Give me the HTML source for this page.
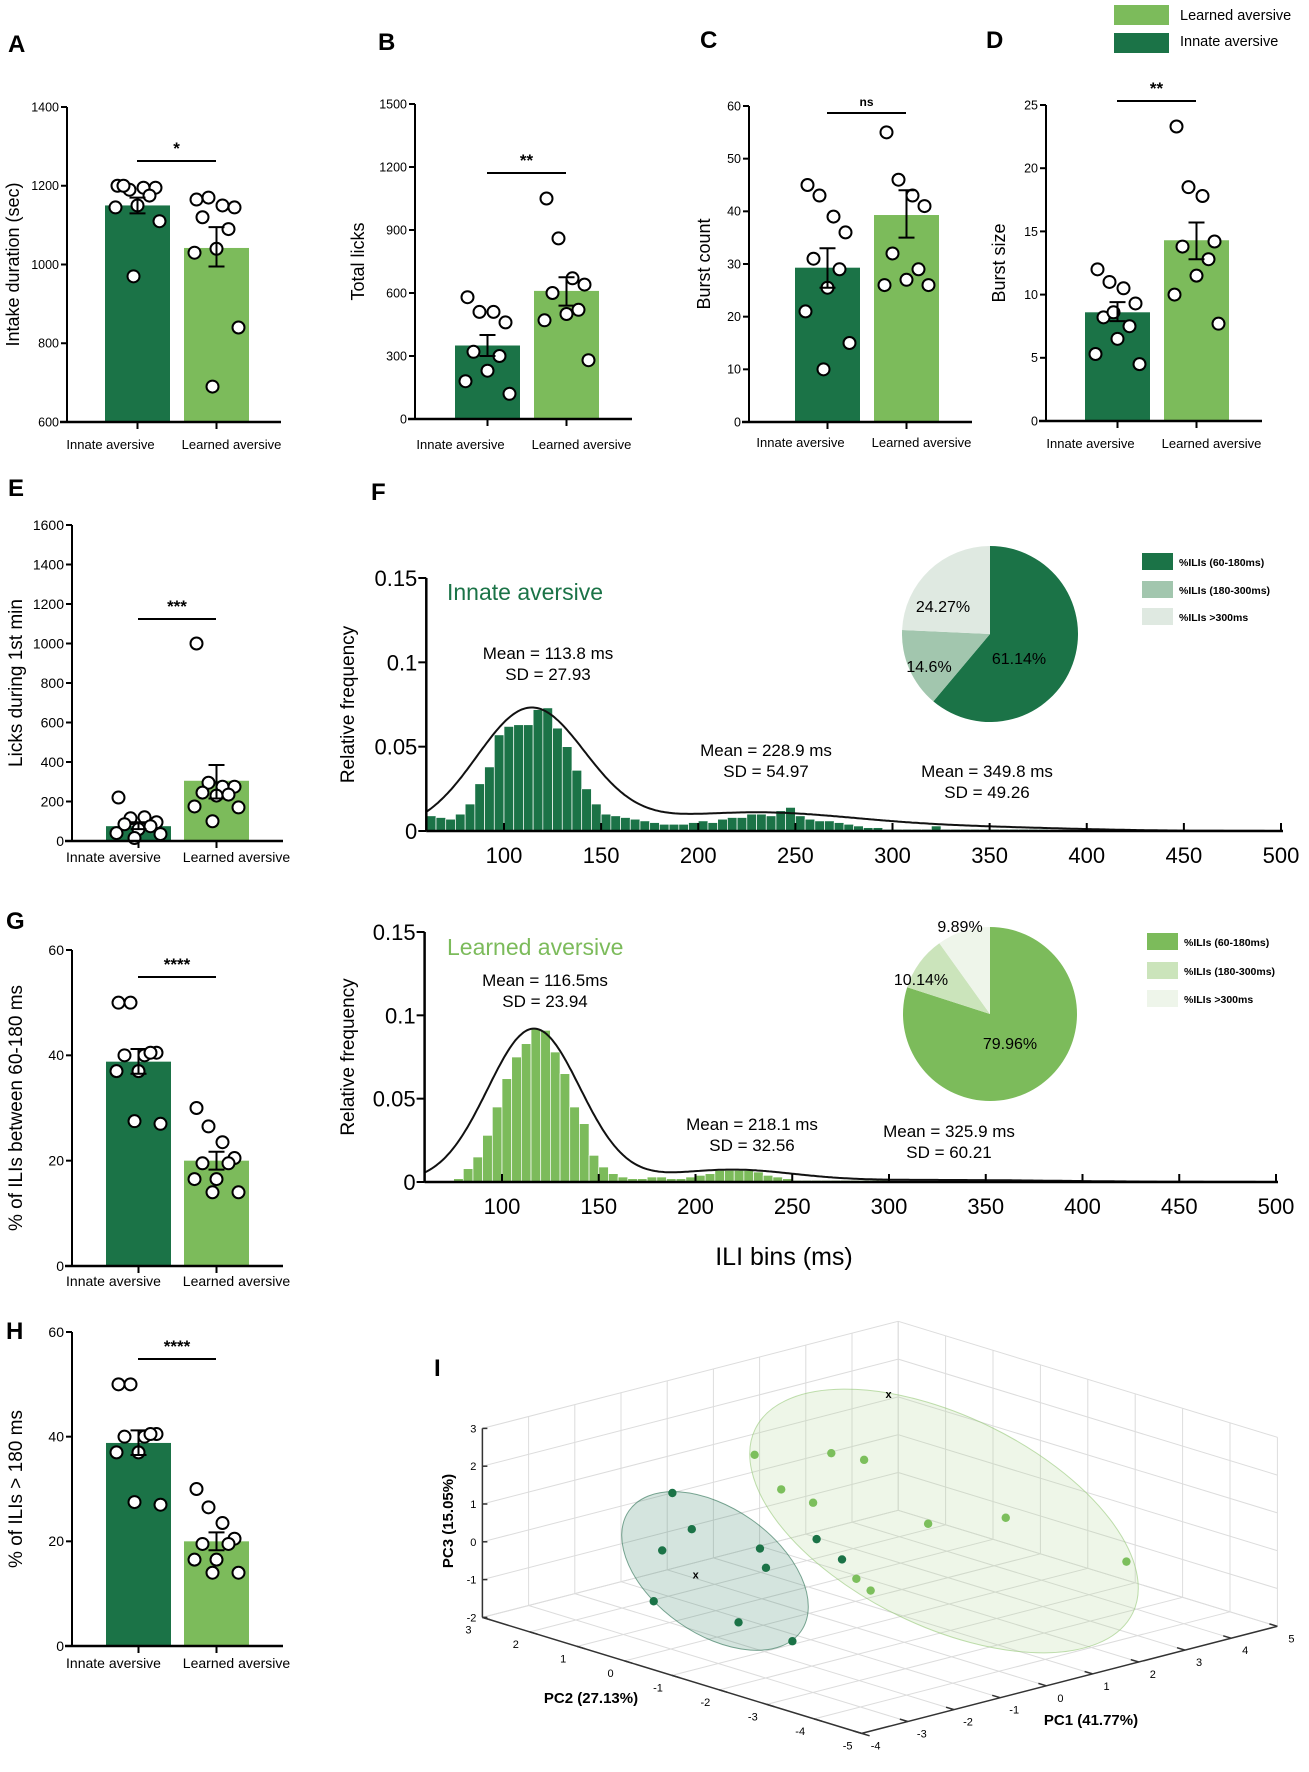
<!DOCTYPE html>
<html><head><meta charset="utf-8"><style>
html,body{margin:0;padding:0;background:#fff;}
svg{display:block;font-family:"Liberation Sans",sans-serif;}
</style></head>
<body>
<svg id="fig" width="1309" height="1772" viewBox="0 0 1309 1772" xmlns="http://www.w3.org/2000/svg"></svg>
<script>
// ---------- DATA ----------
const categories = ["Innate aversive", "Learned aversive"];
const intakeMeans = [1150, 1042];
const intakeErr = [[1130,1170],[995,1095]];
const intakeInnate = [1200,1190,1195,1195,1200,1175,1150,1145,1110,970];
const intakeLearned = [1165,1170,1150,1145,1120,1090,1040,1030,840,690];
const licksMeans = [350, 610];
const licksErr = [[300,400],[540,675]];
const licksInnate = [580,510,510,460,320,300,230,180,120];
const licksLearned = [1050,860,670,640,600,520,500,470,280];
const burstCountMeans = [29.3, 39.3];
const burstCountErr = [[25.5,33],[35,44]];
const burstCountInnate = [45,43,39,36,31,29,25.5,21,15,10];
const burstCountLearned = [55,46,43,41,32,29,27,26,26];
const burstSizeMeans = [8.6, 14.3];
const burstSizeErr = [[7.9,9.4],[12.8,15.7]];
const burstSizeInnate = [12,11,10.5,9.3,8.2,7.5,6.5,5.3,4.5,8.6];
const burstSizeLearned = [23.3,18.5,17.8,14.2,13.8,12.8,11.5,10,7.7];
const firstMinMeans = [75, 305];
const firstMinErr = [[60,95],[215,385]];
const firstMinInnate = [220,115,120,95,85,75,60,40,35,15];
const firstMinLearned = [1000,295,275,275,245,235,230,175,170,100];
const ili60Means = [38.8, 20];
const ili60Err = [[36.5,41.2],[18.3,21.7]];
const ili60Innate = [50,50,40,40.5,40,40.5,37,37,27,27.5];
const ili60Learned = [30,26.5,23.5,20.5,19.5,19.5,16.5,16.5,14,14];
const ili180Means = [38.8, 20];
const ili180Err = [[36.5,41.2],[18.3,21.7]];
const ili180Innate = [50,50,40,40.5,40,40.5,37,37,27,27.5];
const ili180Learned = [30,26.5,23.5,20.5,19.5,19.5,16.5,16.5,14,14];

// histogram bins (ms, 5 ms width)
const innateBins = [60,65,70,75,80,85,90,95,100,105,110,115,120,125,130,135,140,145,150,155,160,165,170,175,180,185,190,195,200,205,210,215,220,225,230,235,240,245,250,255,260,265,270,275,280,285,290,295,300,305,310,315,320,325,330,335,340,345,350,355,360,365,370,375,380,385,390,395];
const innateFreq = [0.009,0.008,0.007,0.01,0.016,0.028,0.038,0.057,0.062,0.063,0.063,0.072,0.073,0.061,0.05,0.036,0.025,0.016,0.01,0.009,0.008,0.007,0.006,0.005,0.004,0.004,0.004,0.005,0.006,0.005,0.007,0.008,0.008,0.01,0.01,0.009,0.012,0.014,0.009,0.007,0.006,0.006,0.005,0.004,0.003,0.002,0.002,0.001,0.001,0.001,0.001,0.001,0.003,0.001,0.001,0.001,0.001,0.001,0.001,0.001,0.001,0.001,0.001,0.001,0.0005,0.0005,0.0005,0.0005];
const learnedBins = [75,80,85,90,95,100,105,110,115,120,125,130,135,140,145,150,155,160,165,170,175,180,185,190,195,200,205,210,215,220,225,230,235,240,245,250,255,260,265,270,275,280,285,290,295];
const learnedFreq = [0.002,0.008,0.015,0.028,0.045,0.062,0.075,0.083,0.092,0.091,0.078,0.065,0.045,0.035,0.016,0.009,0.005,0.003,0.002,0.002,0.003,0.003,0.002,0.002,0.003,0.004,0.005,0.007,0.007,0.007,0.007,0.006,0.004,0.003,0.002,0.001,0.001,0.001,0.001,0.001,0.001,0.001,0.001,0.001,0.001];
const innateFitMean = [113.8, 228.9, 349.8];
const innateFitSD = [27.93, 54.97, 49.26];
const innateFitPeak = [0.072, 0.011, 0.0018];
const learnedFitMean = [116.5, 218.1, 325.9];
const learnedFitSD = [23.94, 32.56, 60.21];
const learnedFitPeak = [0.092, 0.0072, 0.0012];
const xTicks = [100,150,200,250,300,350,400,450,500];
const yTicksF = [0, 0.05, 0.1, 0.15];
const yTickLabelsF = ["0","0.05","0.1","0.15"];
const innatePie = [61.14, 14.6, 24.27];
const innatePieLabels = ["61.14%","14.6%","24.27%"];
const learnedPie = [79.96, 10.14, 9.89];
const learnedPieLabels = ["79.96%","10.14%","9.89%"];
const pieLegend = ["%ILIs (60-180ms)","%ILIs (180-300ms)","%ILIs  >300ms"];

// PCA 3D (PC1, PC2, PC3)
const pcaInnatePC1 = [-1.94,-1.52,-2.16,-1.07,-0.94,-0.87,-0.32,-3.37,-2.56,-2.42];
const pcaInnatePC2 = [1,1,1,0,0,-1,-1,0,-1,-2];
const pcaInnatePC3 = [1.41,0.32,-0.04,0.05,-0.50,0.62,-0.09,-0.62,-1.05,-1.21];
const pcaLearnedPC1 = [-0.16,1.50,2.21,-0.61,0.08,2.57,4.25,4.81,-0.01,0.30];
const pcaLearnedPC2 = [1,1,1,0,0,0,0,-2,-1,-1];
const pcaLearnedPC3 = [1.86,1.38,0.98,1.47,0.90,-0.44,-0.81,-1.38,-0.70,-1.11];
const pcaCentroidInnate = [-2.46, 0, -0.2];
const pcaCentroidLearned = [2.74, 1, 2.55];

// ---------- HELPERS ----------
const NS = "http://www.w3.org/2000/svg";
const svg = document.getElementById("fig");
const DARK = "#1b7347", LIGHT = "#7cbb5b";
function mk(tag, attrs, parent, text) {
  const e = document.createElementNS(NS, tag);
  for (const k in attrs) e.setAttribute(k, attrs[k]);
  if (text !== undefined) e.textContent = text;
  (parent || svg).appendChild(e);
  return e;
}
function group(name) {
  const g = mk("g", {});
  
  
  return g;
}
const jitter = [-20, -8, 6, 18, -14, 12, 0, -22, 22, -4];

function barPanel(p) {
  const g = group(p.name);
  const y = v => p.yBot - (v - p.min) / (p.max - p.min) * (p.yBot - p.yTop);
  const series = [[p.means[0], p.err[0], p.innate, p.off[0], DARK], [p.means[1], p.err[1], p.learned, p.off[1], LIGHT]];
  series.forEach((s, i) => {
    const x0 = p.ax + s[3], w = 65, cx = x0 + w / 2;
    const r = mk("rect", {x: x0, y: y(s[0]), width: w, height: p.yBot - y(s[0]), fill: s[4]}, g);
    
    
    s[2].forEach((v, j) => {
      const c = mk("circle", {cx: cx + jitter[j % jitter.length], cy: y(v), r: p.dr, fill: "#fff", stroke: "#000", "stroke-width": 2}, g);
      
      
    });
    const e = mk("path", {d: `M${cx},${y(s[1][0])}V${y(s[1][1])}M${cx-8},${y(s[1][0])}H${cx+8}M${cx-8},${y(s[1][1])}H${cx+8}`, stroke: "#000", "stroke-width": 2, fill: "none"}, g);
    
    
    mk("line", {x1: cx, x2: cx, y1: p.yBot, y2: p.yBot + 7, stroke: "#000", "stroke-width": 2}, g);
    const t = mk("text", {x: cx + p.labOff[i], y: p.labelY, "text-anchor": "middle", "font-size": p.catFs}, g, categories[i]);
    
    
  });
  mk("line", {x1: p.ax, x2: p.ax, y1: p.yTop, y2: p.yBot, stroke: "#000", "stroke-width": 2}, g);
  mk("line", {x1: p.ax - 7, x2: p.axEnd, y1: p.yBot, y2: p.yBot, stroke: "#000", "stroke-width": 2.5}, g);
  p.ticks.forEach(v => {
    mk("line", {x1: p.ax - 6, x2: p.ax, y1: y(v), y2: y(v), stroke: "#000", "stroke-width": 2}, g);
    const t = mk("text", {x: p.ax - 8, y: y(v) + p.tickFs * 0.35, "text-anchor": "end", "font-size": p.tickFs}, g, String(v));
    
    
  });
  const c1 = p.ax + p.off[0] + 32, c2 = p.ax + p.off[1] + 32;
  mk("line", {x1: c1, x2: c2, y1: p.sigY, y2: p.sigY, stroke: "#000", "stroke-width": 2}, g);
  const st = mk("text", {x: (c1 + c2) / 2, y: p.sigY - 7, "text-anchor": "middle", "font-size": p.sig === "ns" ? 12 : 17, "font-weight": "bold"}, g, p.sig);
  
  
  const yt = mk("text", {x: p.titleX, y: (p.yTop + p.yBot) / 2, "text-anchor": "middle", "font-size": p.titleFs, transform: `rotate(-90 ${p.titleX} ${(p.yTop + p.yBot) / 2})`, "dominant-baseline": "middle"}, g, p.title);
  
  
  const L = mk("text", {x: p.letter[0], y: p.letter[1], "font-size": 24, "font-weight": "bold"}, g, p.letter[2]);
  
  
}
function range(a, b, s) { const r = []; for (let v = a; v <= b + 1e-9; v += s) r.push(v); return r; }
const LO1 = [-27, 15], LO2 = [-25, 20];

barPanel({name: "panel-a", ax: 67, yTop: 107, yBot: 422, min: 600, max: 1400, ticks: range(600, 1400, 200), axEnd: 281, means: intakeMeans, err: intakeErr, innate: intakeInnate, learned: intakeLearned, off: [38, 117], labOff: LO1, sigY: 161, sig: "*", title: "Intake duration (sec)", titleX: 14, titleFs: 18, labelY: 449, catFs: 13, tickFs: 12.5, dr: 6, letter: [8, 52, "A"]});
barPanel({name: "panel-b", ax: 415, yTop: 104, yBot: 419, min: 0, max: 1500, ticks: range(0, 1500, 300), axEnd: 632, means: licksMeans, err: licksErr, innate: licksInnate, learned: licksLearned, off: [40, 119], labOff: LO1, sigY: 173, sig: "**", title: "Total licks", titleX: 359, titleFs: 18, labelY: 449, catFs: 13, tickFs: 12.5, dr: 6, letter: [378, 50, "B"]});
barPanel({name: "panel-c", ax: 749, yTop: 106, yBot: 422, min: 0, max: 60, ticks: range(0, 60, 10), axEnd: 972, means: burstCountMeans, err: burstCountErr, innate: burstCountInnate, learned: burstCountLearned, off: [46, 125], labOff: LO1, sigY: 113, sig: "ns", title: "Burst count", titleX: 705, titleFs: 18, labelY: 447, catFs: 13, tickFs: 12.5, dr: 6, letter: [700, 48, "C"]});
barPanel({name: "panel-d", ax: 1046, yTop: 105, yBot: 421, min: 0, max: 25, ticks: range(0, 25, 5), axEnd: 1262, means: burstSizeMeans, err: burstSizeErr, innate: burstSizeInnate, learned: burstSizeLearned, off: [39, 118], labOff: LO1, sigY: 101, sig: "**", title: "Burst size", titleX: 1000, titleFs: 18, labelY: 448, catFs: 13, tickFs: 12.5, dr: 6, letter: [986, 48, "D"]});
barPanel({name: "panel-e", ax: 72, yTop: 525, yBot: 841, min: 0, max: 1600, ticks: range(0, 1600, 200), axEnd: 283, means: firstMinMeans, err: firstMinErr, innate: firstMinInnate, learned: firstMinLearned, off: [34, 112], labOff: LO2, sigY: 619, sig: "***", title: "Licks during 1st min", titleX: 17, titleFs: 19, labelY: 862, catFs: 14, tickFs: 14, dr: 6, letter: [8, 496, "E"]});
barPanel({name: "panel-g", ax: 72, yTop: 950, yBot: 1266, min: 0, max: 60, ticks: range(0, 60, 20), axEnd: 283, means: ili60Means, err: ili60Err, innate: ili60Innate, learned: ili60Learned, off: [34, 112], labOff: LO2, sigY: 977, sig: "****", title: "% of ILIs between 60-180 ms", titleX: 17, titleFs: 19, labelY: 1286, catFs: 14, tickFs: 14, dr: 6, letter: [6, 929, "G"]});
barPanel({name: "panel-h", ax: 72, yTop: 1332, yBot: 1646, min: 0, max: 60, ticks: range(0, 60, 20), axEnd: 283, means: ili180Means, err: ili180Err, innate: ili180Innate, learned: ili180Learned, off: [34, 112], labOff: LO2, sigY: 1359, sig: "****", title: "%  of ILIs > 180 ms", titleX: 17, titleFs: 19, labelY: 1668, catFs: 14, tickFs: 14, dr: 6, letter: [6, 1339, "H"]});

// top-right legend
(function(){
  const g = group("group-legend");
  [["Learned aversive", LIGHT, 5, 20], ["Innate aversive", DARK, 33, 46]].forEach(d => {
    const r = mk("rect", {x: 1114, y: d[2], width: 55, height: 20, fill: d[1]}, g);
    
    
    const t = mk("text", {x: 1180, y: d[3], "font-size": 14.5}, g, d[0]);
    
    
  });
})();

// ---------- PANEL F ----------
function histPanel(p) {
  const g = group(p.name);
  const X = v => p.x0 + (v - 60) * p.sx;
  const Y = v => p.y0 - v * p.sy;
  p.bins.forEach((b, i) => {
    const r = mk("rect", {x: X(b), y: Y(p.freq[i]), width: 5 * p.sx, height: p.y0 - Y(p.freq[i]), fill: p.color, stroke: "#fff", "stroke-width": 0.7}, g);
    
    
  });
  let d = "";
  for (let v = 60; v <= 500; v += 1) {
    let f = 0;
    for (let k = 0; k < p.mean.length; k++) f += p.peak[k] * Math.exp(-0.5 * Math.pow((v - p.mean[k]) / p.sd[k], 2));
    d += (v === 60 ? "M" : "L") + X(v).toFixed(1) + "," + Y(f).toFixed(1);
  }
  const c = mk("path", {d: d, fill: "none", stroke: "#111", "stroke-width": 2}, g);
  
  
  mk("line", {x1: p.x0, x2: p.x0, y1: Y(0.15), y2: p.y0, stroke: "#000", "stroke-width": 2.5}, g);
  mk("line", {x1: p.x0, x2: X(500) + 2, y1: p.y0, y2: p.y0, stroke: "#000", "stroke-width": 2.5}, g);
  yTicksF.forEach((v, i) => {
    mk("line", {x1: p.x0 - 8, x2: p.x0, y1: Y(v), y2: Y(v), stroke: "#000", "stroke-width": 2}, g);
    const t = mk("text", {x: p.x0 - 9, y: Y(v) + 8, "text-anchor": "end", "font-size": 22}, g, yTickLabelsF[i]);
    
    
  });
  xTicks.forEach(v => {
    mk("line", {x1: X(v), x2: X(v), y1: p.y0 - 8, y2: p.y0, stroke: "#000", "stroke-width": 2}, g);
    const t = mk("text", {x: X(v), y: p.y0 + 32, "text-anchor": "middle", "font-size": 22}, g, String(v));
    
    
  });
  const yl = mk("text", {x: 349, y: (Y(0.15) + p.y0) / 2, "text-anchor": "middle", "dominant-baseline": "middle", "font-size": 19, transform: `rotate(-90 349 ${(Y(0.15) + p.y0) / 2})`}, g, "Relative frequency");
  
  
  const tt = mk("text", {x: 447, y: p.titleY, "font-size": 23, fill: p.titleColor}, g, p.title);
  
  
  p.notes.forEach(n => {
    const a = mk("text", {x: n[0], y: n[1], "text-anchor": "middle", "font-size": 17}, g, n[2]);
    
    
    mk("text", {x: n[0], y: n[1] + 21, "text-anchor": "middle", "font-size": 17}, g, n[3]);
  });
  // pie
  const tot = p.pie.reduce((a, b) => a + b, 0);
  let ang = -Math.PI / 2;
  p.pie.forEach((v, i) => {
    const a2 = ang + v / tot * 2 * Math.PI;
    const large = (a2 - ang) > Math.PI ? 1 : 0;
    const s = mk("path", {d: `M${p.pc[0]},${p.pc[1]}L${p.pc[0] + p.pr * Math.cos(ang)},${p.pc[1] + p.pr * Math.sin(ang)}A${p.pr},${p.pr} 0 ${large} 1 ${p.pc[0] + p.pr * Math.cos(a2)},${p.pc[1] + p.pr * Math.sin(a2)}Z`, fill: p.pieColors[i]}, g);
    
    
    ang = a2;
  });
  p.pieLabelPos.forEach((q, i) => {
    const t = mk("text", {x: q[0], y: q[1], "text-anchor": "middle", "font-size": 16}, g, p.pieLabels[i]);
    
    
  });
  p.legY.forEach((ly, i) => {
    const r = mk("rect", {x: p.legX, y: ly, width: 31, height: 17, fill: p.pieColors[i]}, g);
    
    
    const t = mk("text", {x: p.legX + 37, y: ly + 13, "font-size": 10.5, "font-weight": "bold"}, g, pieLegend[i]);
    
    
  });
}
histPanel({name: "panel-f-innate", bins: innateBins, freq: innateFreq, color: DARK, x0: 426.3, sx: 1.9425, y0: 831, sy: 1686.7, mean: innateFitMean, sd: innateFitSD, peak: innateFitPeak, title: "Innate aversive", titleY: 600, titleColor: DARK,
  notes: [[548, 659, "Mean = 113.8 ms", "SD = 27.93"], [766, 756, "Mean = 228.9 ms", "SD = 54.97"], [987, 777, "Mean = 349.8 ms", "SD = 49.26"]],
  pie: innatePie, pieLabels: innatePieLabels, pc: [990, 634], pr: 88, pieColors: ["#1b7347", "#a2c6ae", "#dfe9e1"], pieLabelPos: [[1019, 664], [929, 672], [943, 612]], legX: 1142, legY: [553, 581, 608]});
histPanel({name: "panel-f-learned", bins: learnedBins, freq: learnedFreq, color: LIGHT, x0: 424.6, sx: 1.935, y0: 1182, sy: 1666.7, mean: learnedFitMean, sd: learnedFitSD, peak: learnedFitPeak, title: "Learned aversive", titleY: 955, titleColor: LIGHT,
  notes: [[545, 986, "Mean = 116.5ms", "SD = 23.94"], [752, 1130, "Mean = 218.1 ms", "SD = 32.56"], [949, 1137, "Mean = 325.9 ms", "SD = 60.21"]],
  pie: learnedPie, pieLabels: learnedPieLabels, pc: [990, 1014], pr: 87, pieColors: ["#7cbb5b", "#cbe4bb", "#eef5ea"], pieLabelPos: [[1010, 1049], [921, 985], [960, 932]], legX: 1147, legY: [933, 962, 990]});
(function(){
  const t = mk("text", {x: 784, y: 1265, "text-anchor": "middle", "font-size": 25}, svg, "ILI bins (ms)");
  
  
  const f = mk("text", {x: 371, y: 500, "font-size": 24, "font-weight": "bold"}, svg, "F");
  
  
})();

// ---------- PANEL I (3D PCA) ----------
(function(){
  const g = group("panel-i");
  const P = (a, b, c) => [861.6 + 46.2 * (a + 4) - 47.4 * (b + 5), 1733.4 - 11.9 * (a + 4) - 14.5 * (b + 5) - 37.8 * (c + 2)];
  const line = (p, q, col, w) => mk("line", {x1: p[0], y1: p[1], x2: q[0], y2: q[1], stroke: col, "stroke-width": w}, g);
  const GR = "#dcdcdc";
  for (let a = -4; a <= 5; a++) { line(P(a, 3, -2), P(a, 3, 3), GR, 1); line(P(a, -5, -2), P(a, 3, -2), GR, 1); }
  for (let c = -2; c <= 3; c++) { line(P(-4, 3, c), P(5, 3, c), GR, 1); line(P(5, -5, c), P(5, 3, c), GR, 1); }
  for (let b = -5; b <= 3; b++) { line(P(5, b, -2), P(5, b, 3), GR, 1); line(P(-4, b, -2), P(5, b, -2), GR, 1); }
  // axes
  line(P(-4, 3, -2), P(-4, 3, 3), "#333", 1.5);
  line(P(-4, -5, -2), P(-4, 3, -2), "#333", 1.5);
  line(P(-4, -5, -2), P(5, -5, -2), "#333", 1.5);
  for (let c = -2; c <= 3; c++) {
    const q = P(-4, 3, c);
    line(q, [q[0] + 5, q[1]], "#333", 1.5);
    mk("text", {x: q[0] - 6, y: q[1] + 4, "text-anchor": "end", "font-size": 11}, g, String(c));
  }
  for (let b = -5; b <= 3; b++) {
    const q = P(-4, b, -2);
    line(q, [q[0] + 8, q[1] + 2.4], "#333", 1.5);
    mk("text", {x: q[0] - 14, y: q[1] + 16, "text-anchor": "middle", "font-size": 11}, g, String(b));
  }
  for (let a = -4; a <= 5; a++) {
    const q = P(a, -5, -2);
    line(q, [q[0] - 8, q[1] - 2.4], "#333", 1.5);
    mk("text", {x: q[0] + 14, y: q[1] + 16, "text-anchor": "middle", "font-size": 11}, g, String(a));
  }
  const e1 = mk("ellipse", {cx: 715, cy: 1571, rx: 105, ry: 63, transform: "rotate(57 715 1571)", fill: "rgba(40,120,90,0.2)", stroke: "rgba(40,110,80,0.6)", "stroke-width": 1}, g);
  e1.setAttribute('transform', 'rotate(35 715 1571)');
  
  
  const e2 = mk("ellipse", {cx: 944, cy: 1521, rx: 210, ry: 105, transform: "rotate(26 944 1521)", fill: "rgba(170,210,140,0.2)", stroke: "rgba(150,200,120,0.6)", "stroke-width": 1}, g);
  
  
  pcaInnatePC1.forEach((a, i) => {
    const q = P(a, pcaInnatePC2[i], pcaInnatePC3[i]);
    const c = mk("circle", {cx: q[0], cy: q[1], r: 4.2, fill: DARK}, g);
    
    
  });
  pcaLearnedPC1.forEach((a, i) => {
    const q = P(a, pcaLearnedPC2[i], pcaLearnedPC3[i]);
    const c = mk("circle", {cx: q[0], cy: q[1], r: 4.2, fill: "#7cbf5c"}, g);
    
    
  });
  [pcaCentroidInnate, pcaCentroidLearned].forEach(cn => {
    const q = P(cn[0], cn[1], cn[2]);
    const t = mk("text", {x: q[0], y: q[1] + 4, "text-anchor": "middle", "font-size": 11, "font-weight": "bold"}, g, "x");
    
    
  });
  const t1 = mk("text", {x: 591, y: 1703, "text-anchor": "middle", "font-size": 15, "font-weight": "bold"}, g, "PC2 (27.13%)");
   
  const t2 = mk("text", {x: 1091, y: 1725, "text-anchor": "middle", "font-size": 15, "font-weight": "bold"}, g, "PC1 (41.77%)");
   
  const t3 = mk("text", {x: 449, y: 1521, "text-anchor": "middle", "dominant-baseline": "middle", "font-size": 15, "font-weight": "bold", transform: "rotate(-90 449 1521)"}, g, "PC3 (15.05%)");
   
  const L = mk("text", {x: 434, y: 1376, "font-size": 24, "font-weight": "bold"}, g, "I");
   
})();
</script>
</body></html>
